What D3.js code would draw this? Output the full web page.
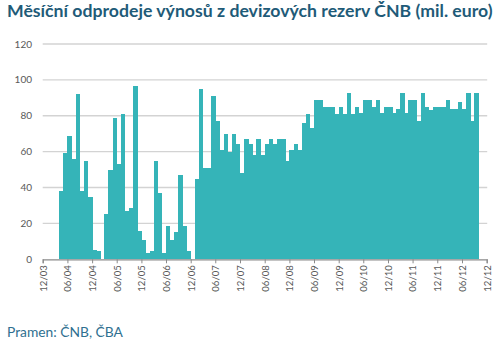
<!DOCTYPE html>
<html>
<head>
<meta charset="utf-8">
<script src="https://cdn.jsdelivr.net/npm/d3@7"></script>
<style>
  html, body { margin: 0; padding: 0; background: #ffffff; }
  svg { display: block; }
</style>
</head>
<body>
<svg id="chart" width="500" height="343"></svg>
<script>
// ---------------- DATA (mil. EUR, monthly) ----------------
const title = "Měsíční odprodeje výnosů z devizových rezerv ČNB (mil. euro)";
const source = "Pramen: ČNB, ČBA";

const firstMonth = "2003-12";           // first category
const axisEndMonth = "2012-12";         // last tick of the axis
const tickLabels = ["12/03","06/04","12/04","06/05","12/05","06/06","12/06","06/07","12/07",
                    "06/08","12/08","06/09","12/09","06/10","12/10","06/11","12/11","06/12","12/12"];
const yTicks = [0, 20, 40, 60, 80, 100, 120];

// values by year (Dec 2003 .. Sep 2012)
const sales2003 = [0];
const sales2004 = [0, 0, 0, 38, 59, 69, 56, 92, 38, 55, 35, 5];
const sales2005 = [4.5, 0, 25, 50, 79, 53, 81, 27, 28.5, 96.5, 15.5, 11];
const sales2006 = [3.5, 4.5, 55, 37, 3.5, 18.5, 11, 15, 47, 18.5, 4.5, 0];
const sales2007 = [45, 95, 51, 51, 91, 77, 61, 70, 60, 70, 64, 48];
const sales2008 = [67, 64, 58, 67, 58, 64, 67, 64, 67, 67, 55, 61];
const sales2009 = [64, 61, 76, 81, 73, 88.7, 88.7, 84.7, 84.7, 84.7, 81, 84.7];
const sales2010 = [81, 92.5, 81, 85, 81.7, 88.7, 88.7, 85, 88.7, 81.7, 84.7, 84.7];
const sales2011 = [81.7, 84, 92.5, 81.7, 88.7, 88.7, 77, 92.5, 84.7, 83, 84.7, 84.7];
const sales2012 = [84.7, 88.7, 84, 84, 87.8, 84, 92.5, 77, 92.5];

const values = [].concat(sales2003, sales2004, sales2005, sales2006, sales2007,
                         sales2008, sales2009, sales2010, sales2011, sales2012);

// ---------------- CHART ----------------
const parseMonth = d3.timeParse("%Y-%m");
const start = parseMonth(firstMonth);
const end = parseMonth(axisEndMonth);
const data = values.map((v, i) => ({ date: d3.timeMonth.offset(start, i), value: v }));

const svg = d3.select("#chart");
const fontFamily = "Lato, 'Open Sans', 'Noto Sans', sans-serif";

const x = d3.scaleTime().domain([start, end]).range([42.7, 486.7]);
const y = d3.scaleLinear().domain([0, 120]).range([259.3, 44]);

// title
const t = svg.append("text")
  .attr("x", 7).attr("y", 16.5)
  .attr("font-family", fontFamily)
  .attr("font-weight", "bold")
  .attr("font-size", 16)
  .attr("fill", "#1f5b78")
  .text(title);
// fit title to the reference width
const targetW = 486;
const w0 = t.node().getComputedTextLength();
t.attr("font-size", 16 * targetW / w0);

// gridlines
svg.append("g")
  .selectAll("line")
  .data(yTicks.filter(d => d > 0))
  .join("line")
  .attr("x1", x.range()[0]).attr("x2", x.range()[1] + 0.5)
  .attr("y1", d => y(d)).attr("y2", d => y(d))
  .attr("stroke", "#d3d3d3")
  .attr("stroke-width", 1.4);

// y labels
svg.append("g")
  .selectAll("text")
  .data(yTicks)
  .join("text")
  .attr("x", 32).attr("y", d => y(d))
  .attr("dy", "0.35em")
  .attr("text-anchor", "end")
  .attr("font-family", fontFamily)
  .attr("font-size", 10)
  .attr("fill", "#595959")
  .text(d => d);

// bars
svg.append("g")
  .selectAll("rect")
  .data(data.filter(d => d.value > 0))
  .join("rect")
  .attr("x", d => x(d.date))
  .attr("width", d => x(d3.timeMonth.offset(d.date, 1)) - x(d.date) + 0.4)
  .attr("y", d => y(d.value))
  .attr("height", d => y(0) - y(d.value))
  .attr("fill", "#35b4b8")
  .attr("shape-rendering", "crispEdges");

// x axis
const tickDates = tickLabels.map((_, i) => d3.timeMonth.offset(start, i * 6));
const xAxis = d3.axisBottom(x)
  .tickValues(tickDates)
  .tickFormat((d, i) => tickLabels[i])
  .tickSizeOuter(0)
  .tickSize(4);

const gx = svg.append("g")
  .attr("transform", `translate(0,${y(0)})`)
  .call(xAxis);
gx.select(".domain").attr("stroke", "#8a8a8a").attr("stroke-width", 1.2);
gx.selectAll(".tick line").attr("stroke", "#8a8a8a").attr("stroke-width", 1);
gx.selectAll(".tick text")
  .attr("font-family", fontFamily)
  .attr("font-size", 9.5)
  .attr("fill", "#595959")
  .attr("text-anchor", "end")
  .attr("transform", "rotate(-90)")
  .attr("x", -6)
  .attr("y", 0)
  .attr("dy", "0.35em");

// source
svg.append("text")
  .attr("x", 7).attr("y", 337)
  .attr("font-family", fontFamily)
  .attr("font-size", 13.8)
  .attr("fill", "#2f7090")
  .text(source);
</script>
</body>
</html>
